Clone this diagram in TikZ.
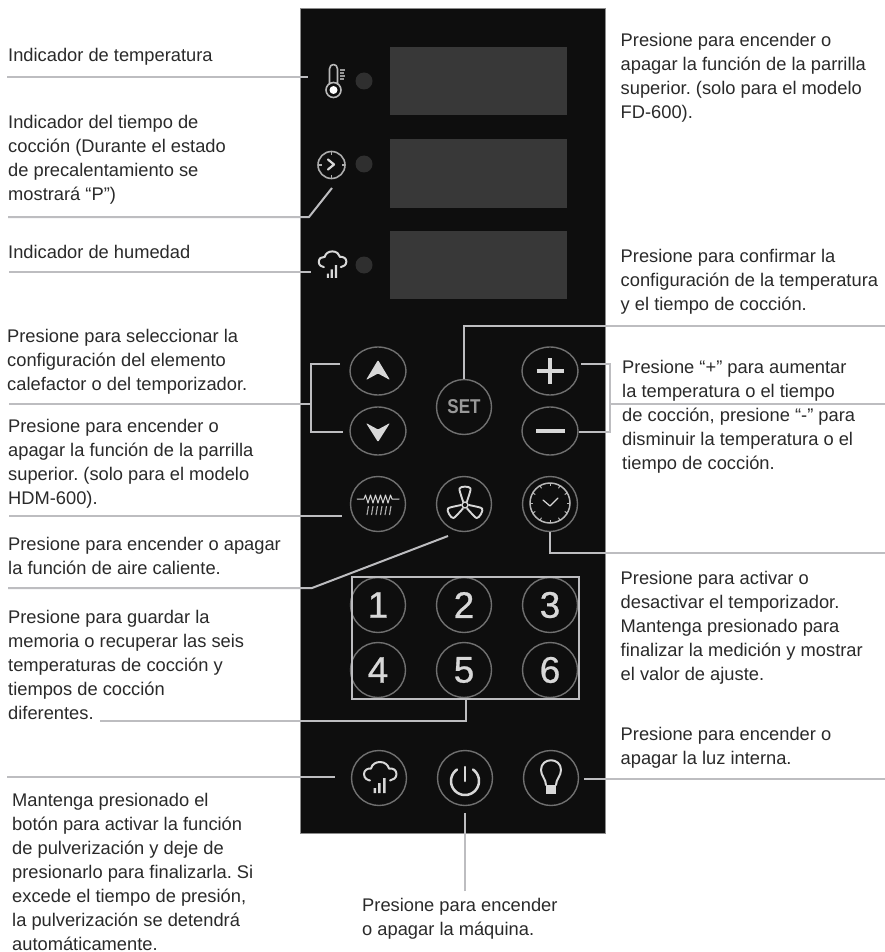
\documentclass[tikz,border=0pt]{standalone}
\usepackage{fontspec}
\usetikzlibrary{shapes.geometric,calc}
\setmainfont{Liberation Sans}
\frenchspacing
\definecolor{txt}{HTML}{2A2A2A}
\definecolor{leader}{HTML}{BDBDC0}
\definecolor{panel}{HTML}{0E0E0E}
\definecolor{screen}{HTML}{383838}
\definecolor{ledc}{HTML}{2F2F2F}
\definecolor{ring}{HTML}{707070}
\definecolor{glyph}{HTML}{D8D8D8}
\newcommand{\lbl}[4]{\node[lbltext] (#1) at (#2,#3) {#4};}
\tikzset{
  lbltext/.style={anchor=north west,inner sep=0pt,align=left,text=txt,font=\fontsize{18.3}{24}\selectfont},
  leaderline/.style={draw=leader,line width=2pt,line join=miter},
  btn/.style={circle,draw=ring,line width=1.4pt,minimum size=55pt,inner sep=0pt,text=glyph},
  btnov/.style={ellipse,draw=ring,line width=1.4pt,minimum width=56pt,minimum height=48pt,inner sep=0pt},
  num/.style={btn,font=\fontsize{37}{37}\selectfont\addfontfeature{FakeBold=0.7}},
  disp/.style={rectangle,fill=screen,inner sep=0pt,minimum width=177pt,minimum height=68pt},
  led/.style={circle,fill=ledc,inner sep=0pt,minimum size=17pt},
  gl/.style={draw=glyph,line width=1.5pt,line cap=round,line join=round},
  cloudicon/.pic={
    \draw[gl,line width=2pt] (-9,2.5) .. controls (-11,2) and (-15,1) .. (-15,-4) .. controls (-15,-8) and (-11,-10) .. (-8,-9.5)
      .. controls (-7,-14) and (-3,-16) .. (1,-16) .. controls (6,-16) and (9,-13) .. (10,-9.5)
      .. controls (14,-10) and (17.5,-8) .. (17.5,-4) .. controls (17.5,0) and (14,2) .. (11,2.5);
    \fill[glyph] (-5.5,15) rectangle (-3,10) (-1,15) rectangle (1.5,5) (4,15) rectangle (6.5,0);
  },
  clockface/.pic={
    \draw[draw=glyph!80!black,line width=1.6pt] (0,0) circle (13.5);
    \foreach \a in {0,90,180,270} \draw[draw=glyph!80!black,line width=1.4pt] (\a:13.5) -- (\a:10);
  },
}
\begin{document}
\begin{tikzpicture}[x=1pt,y=-1pt]
\useasboundingbox (0,0) rectangle (885,952);
\fill[white] (0,0) rectangle (885,952);
\node[rectangle,fill=panel,draw=black!45,line width=.6pt,inner sep=0pt,minimum width=305pt,minimum height=825pt] (panelbox) at (452.5,420.5) {};
% displays
\node[disp] (d1) at (478.5,81) {};
\node[disp] (d2) at (478.5,173.5) {};
\node[disp] (d3) at (478.5,265) {};
\node[led] (l1) at (364,81) {};
\node[led] (l2) at (364,164) {};
\node[led] (l3) at (364,265) {};
% thermometer
\coordinate (iT) at (333,81);
\draw[gl,draw=glyph!85!black,line width=1.6pt] (329.5,84) -- (329.5,69) .. controls (329.5,63) and (337.5,63) .. (337.5,69) -- (337.5,84);
\draw[gl,draw=glyph!85!black,line width=1.6pt] (333.5,90) circle (7.5);
\fill[white] (333.5,90) circle (4);
\foreach \yy/\xx in {70/345,73/344,76/345,79/344} \draw[draw=glyph!70!black,line width=1.5pt] (340,\yy) -- (\xx,\yy);
% clock indicator
\coordinate (iC) at (331.5,165);
\pic at (iC) {clockface};
\draw[gl,line width=2.2pt] (328,159.5) -- (334,164.5) -- (328,169.5);
\pic[scale=.85] at (331.5,265) {cloudicon};
% buttons
\node[btnov] (bUp) at (378,371) {};
\node[btnov] (bDown) at (378,431) {};
\node[btn,font=\bfseries\fontsize{20}{20}\selectfont,text=black!40] (bSet) at (464,407) {\scalebox{.85}[1]{SET}};
\node[btnov] (bPlus) at (550,371) {};
\node[btnov] (bMinus) at (550,431) {};
\fill[glyph,rounded corners=1pt] (378,360) -- (390,380) -- (378,373.5) -- (366,380) -- cycle;
\fill[glyph,rounded corners=1pt] (378,442) -- (390,423) -- (378,429.5) -- (366,423) -- cycle;
\draw[glyph,line width=3.5pt] (536.5,371) -- (563.5,371) (550,358) -- (550,384);
\draw[glyph,line width=4.5pt] (536,431) -- (565,431);
% row 2
\node[btn] (bHeat) at (378,504) {};
\node[btn] (bFan) at (464,504) {};
\node[btn] (bClock) at (550,504) {};
\draw[gl,line width=1pt] (357,499) -- (364,499) -- (365.5,495) -- (368,503) -- (370.5,495) -- (373,503) -- (375.5,495) -- (378,503) -- (380.5,495) -- (383,503) -- (385.5,495) -- (388,503) -- (390.5,495) -- (392,499) -- (399,499);
\foreach \xx in {367,371.5,376,380.5,385,389.5} \draw[draw=glyph!80!black,line width=1.1pt] (\xx,515) -- (\xx+1.5,506);
\foreach \r in {0,120,240}
  \draw[gl,line width=1.9pt,rotate around={\r:(465,505)}] (463,501.5) .. controls (461,495) and (459,490) .. (459.5,488.5) .. controls (460,486) and (470,486) .. (470.5,488.5) .. controls (471,490) and (469,495) .. (467,501.5);
\draw[gl,line width=1.4pt] (465,505) circle (3);
\draw[draw=glyph!85!black,line width=1.5pt] (550,503) circle (20);
\foreach \a in {0,30,...,330} \draw[draw=glyph!85!black,line width=1pt] ($(550,503)+(\a:20)$) -- ($(550,503)+(\a:17)$);
\draw[gl,line width=1.2pt] (543,500) -- (550,506) -- (558,498);
% numbers
\node[num] (n1) at (378,605) {1};
\node[num] (n2) at (464,605) {2};
\node[num] (n3) at (550,605) {3};
\node[num] (n4) at (378,670) {4};
\node[num] (n5) at (464,670) {5};
\node[num] (n6) at (550,670) {6};
\node[rectangle,draw=leader,line width=2pt,inner sep=0pt,minimum width=227pt,minimum height=122pt] (group) at (465.5,638) {};
% bottom row
\node[btn] (bSpray) at (379,778) {};
\node[btn] (bPower) at (465,778) {};
\node[btn] (bLight) at (551,778) {};
\pic at (bSpray.center) {cloudicon};
\draw[gl,line width=2.5pt] (465,767) -- (465,781);
\draw[gl,line width=2.5pt] plot[domain=35:325,samples=40] ({465+14*sin(\x)},{781-14*cos(\x)});
\fill[glyph] (546,785) rectangle (556,794);
\draw[gl,line width=2pt] (546,785) .. controls (546,779) and (541,776) .. (541,770) .. controls (541,757) and (561,757) .. (561,770) .. controls (561,776) and (556,779) .. (556,785);
% label texts
\lbl{t1}{8}{48.4}{Indicador de temperatura}
\lbl{t2}{8}{115.4}{Indicador del tiempo de\\cocción (Durante el estado\\de precalentamiento se\\mostrará “P”)}
\lbl{t3}{8}{245.4}{Indicador de humedad}
\lbl{t4}{7}{329.4}{Presione para seleccionar la\\configuración del elemento\\calefactor o del temporizador.}
\lbl{t5}{8}{419.4}{Presione para encender o\\apagar la función de la parrilla\\superior. (solo para el modelo\\HDM-600).}
\lbl{t6}{8}{537.4}{Presione para encender o apagar\\la función de aire caliente.}
\lbl{t7}{8}{610.4}{Presione para guardar la\\memoria o recuperar las seis\\temperaturas de cocción y\\tiempos de cocción\\diferentes.}
\lbl{t8}{12}{792.6}{Mantenga presionado el\\botón para activar la función\\de pulverización y deje de\\presionarlo para finalizarla. Si\\excede el tiempo de presión,\\la pulverización se detendrá\\automáticamente.}
\lbl{t9}{620.5}{33.4}{Presione para encender o\\apagar la función de la parrilla\\superior. (solo para el modelo\\FD-600).}
\lbl{t10}{620.5}{249.4}{Presione para confirmar la\\configuración de la temperatura\\y el tiempo de cocción.}
\lbl{t11}{622}{360.4}{Presione “+” para aumentar\\la temperatura o el tiempo\\de cocción, presione “-” para\\disminuir la temperatura o el\\tiempo de cocción.}
\lbl{t12}{620.5}{571.4}{Presione para activar o\\desactivar el temporizador.\\Mantenga presionado para\\finalizar la medición y mostrar\\el valor de ajuste.}
\lbl{t13}{620.5}{727.4}{Presione para encender o\\apagar la luz interna.}
\lbl{t14}{362}{898.4}{Presione para encender\\o apagar la máquina.}
% free ends of the leaders
\coordinate (aL1) at (7,77); \coordinate (aR1) at (308,77);
\coordinate (aL2) at (8,217); \coordinate (aK2) at (309,217); \coordinate (aR2) at (332,188);
\coordinate (aL3) at (9,271.5); \coordinate (aR3) at (311,271.5);
\coordinate (aL4) at (9,404); \coordinate (aJ4) at (311,404); \coordinate (aT4) at (340,364); \coordinate (aB4) at (343,432);
\coordinate (aL5) at (9,516); \coordinate (aR5) at (342,516);
\coordinate (aL6) at (8,588); \coordinate (aK6) at (312,588); \coordinate (aR6) at (448,536);
\coordinate (aL7) at (100,721);
\coordinate (aL8) at (7,777); \coordinate (aR8) at (335,777);
\coordinate (aB9) at (465,891); \coordinate (aT9) at (465,813);
\coordinate (aS10) at (584,779); \coordinate (aE10) at (885,779);
\coordinate (aE11) at (885,326);
\coordinate (aT12) at (581,364); \coordinate (aB12) at (579,432); \coordinate (aJ12) at (610,404); \coordinate (aE12) at (885,404);
\coordinate (aE13) at (885,553);
% leaders
\draw[leaderline] (aL1) -- (aR1);
\draw[leaderline] (aL2) -- (aK2) -- (aR2);
\draw[leaderline] (aL3) -- (aR3);
\draw[leaderline] (aL4) -- (aJ4);
\draw[leaderline] (aT4) -| (aJ4) |- (aB4);
\draw[leaderline] (aL5) -- (aR5);
\draw[leaderline] (aL6) -- (aK6) -- (aR6);
\draw[leaderline] (aL7) -| (group.south);
\draw[leaderline] (aL8) -- (aR8);
\draw[leaderline] (aB9) -- (aT9);
\draw[leaderline] (aS10) -- (aE10);
\draw[leaderline] (bSet.north) |- (aE11);
\draw[leaderline] (aT12) -| (aJ12) |- (aB12);
\draw[leaderline] (aJ12) -- (aE12);
\draw[leaderline] (bClock.south) |- (aE13);
\end{tikzpicture}
\end{document}
